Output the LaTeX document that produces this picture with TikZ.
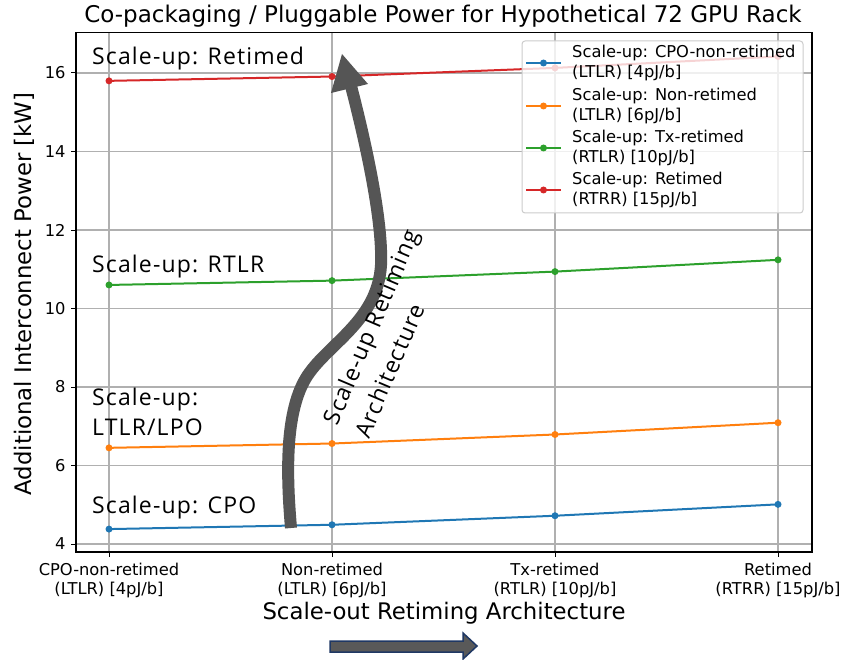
\documentclass[tikz,border=0pt]{standalone}
\usepackage{fontspec}
\setmainfont{DejaVu Sans}
\newfontfamily\annfont[LetterSpace=5]{Open Sans}
\usetikzlibrary{arrows.meta}

\definecolor{mblue}{HTML}{1F77B4}
\definecolor{morange}{HTML}{FF7F0E}
\definecolor{mgreen}{HTML}{2CA02C}
\definecolor{mred}{HTML}{D62728}
\definecolor{gridgray}{HTML}{B0B0B0}
\definecolor{legendedge}{HTML}{CCCCCC}
\definecolor{arrowgray}{HTML}{555555}
\definecolor{boxarrow}{HTML}{595959}
\definecolor{navyedge}{HTML}{1F3864}

\begin{document}
\begin{tikzpicture}[x=1pt,y=-1pt,
  gridline/.style={draw=gridgray,line width=1.1pt},
  series/.style={line width=2pt,color=#1},
  ticklabel/.style={font=\fontsize{16.3}{19.5}\selectfont,inner sep=0pt,align=center},
  axistitle/.style={font=\fontsize{22.8}{26}\selectfont,inner sep=0pt},
  annot/.style={font=\annfont\fontsize{23}{30}\selectfont,inner sep=0pt,anchor=west,align=left},
  legendtext/.style={font=\fontsize{16.3}{20}\selectfont,inner sep=0pt,anchor=west,align=left}
]
\useasboundingbox (0,0) rectangle (842,660);
\fill[white] (0,0) rectangle (842,660);

% title
\node[font=\fontsize{23}{27}\selectfont,inner sep=0pt] (title) at (443,16) {Co-packaging / Pluggable Power for Hypothetical 72 GPU Rack};

% data area: x = category index, y = kW
\begin{scope}[shift={(109,701)},x=223pt,y=39.25pt]
  \foreach \v in {4,6,...,16}{
    \draw[gridline] (-0.148,\v) -- (3.152,\v);
    \draw[line width=1pt] (-0.148,\v) -- ++(-5pt,0) node[ticklabel,anchor=east,xshift=-5pt] {\v};
  }
  \foreach \i in {0,1,2,3}{
    \draw[gridline] (\i,3.80) -- (\i,17.04);
    \draw[line width=1pt] (\i,3.80) -- ++(0,-5pt);
  }
  \node[ticklabel] (xl0) at (0,3.80) [yshift=-28.5pt] {CPO-non-retimed\\(LTLR) [4pJ/b]};
  \node[ticklabel] (xl1) at (1,3.80) [yshift=-28.5pt] {Non-retimed\\(LTLR) [6pJ/b]};
  \node[ticklabel] (xl2) at (2,3.80) [yshift=-28.5pt] {Tx-retimed\\(RTLR) [10pJ/b]};
  \node[ticklabel] (xl3) at (3,3.80) [yshift=-28.5pt] {Retimed\\(RTRR) [15pJ/b]};

  % series
  \draw[series=mblue] (0,4.38) -- (1,4.49) -- (2,4.72) -- (3,5.01);
  \draw[series=morange] (0,6.45) -- (1,6.56) -- (2,6.79) -- (3,7.09);
  \draw[series=mgreen] (0,10.60) -- (1,10.71) -- (2,10.94) -- (3,11.24);
  \draw[series=mred] (0,15.80) -- (1,15.91) -- (2,16.13) -- (3,16.42);
  \foreach \x/\b/\o/\g/\r in {0/4.38/6.45/10.60/15.80,1/4.49/6.56/10.71/15.91,2/4.72/6.79/10.94/16.13,3/5.01/7.09/11.24/16.42}{
    \fill[mblue] (\x,\b) circle[radius=3.5pt];
    \fill[morange] (\x,\o) circle[radius=3.5pt];
    \fill[mgreen] (\x,\g) circle[radius=3.5pt];
    \fill[mred] (\x,\r) circle[radius=3.5pt];
  }
  % frame
  \draw[line width=1.3pt] (-0.148,3.80) rectangle (3.152,17.04);
\end{scope}

% axis titles
\node[axistitle] (xtitle) at (444,613) {Scale-out Retiming Architecture};
\node[axistitle,rotate=90] (ytitle) at (24,294) {Additional Interconnect Power [kW]};

% annotations for the scale-up series
\node[annot] (aret) at (92,59) {Scale-up: Retimed};
\node[annot] (artlr) at (92,267) {Scale-up: RTLR};
\node[annot] (altlr) at (92,412) {Scale-up:\\LTLR/LPO};
\node[annot] (acpo) at (92,508) {Scale-up: CPO};

% curved scale-up arrow
\draw[arrowgray,line width=12pt]
  (291,528) .. controls (286,470) and (285,405) .. (310,372)
            .. controls (332,342) and (378,318) .. (381,265)
            .. controls (383,220) and (365,140) .. (351,86);
\fill[arrowgray] (331,93) -- (342,54) -- (368,84) -- cycle;
\node[annot,rotate=67,font=\annfont\fontsize{23}{34}\selectfont] (rlabel) at (345.5,430) {Scale-up Retiming\\Architecture};

% legend
\draw[legendedge,fill=white,fill opacity=0.8,rounded corners=3pt,line width=1pt] (522,41) rectangle (803,213);
\foreach \yy/\c/\t in {63/mblue/{Scale-up: CPO-non-retimed\\(LTLR) [4pJ/b]},
                       106/morange/{Scale-up: Non-retimed\\(LTLR) [6pJ/b]},
                       148/mgreen/{Scale-up: Tx-retimed\\(RTLR) [10pJ/b]},
                       190/mred/{Scale-up: Retimed\\(RTRR) [15pJ/b]}}{
  \draw[series=\c] (526,\yy) -- (561,\yy);
  \fill[\c] (543.5,\yy) circle[radius=3.5pt];
  \node[legendtext] at (572,\yy) {\t};
}

% scale-out direction arrow
\draw[fill=boxarrow,draw=navyedge,line width=1.5pt,line join=miter]
  (330,641) -- (463,641) -- (463,633) -- (477,646) -- (463,659) -- (463,652) -- (330,652) -- cycle;
\end{tikzpicture}
\end{document}
